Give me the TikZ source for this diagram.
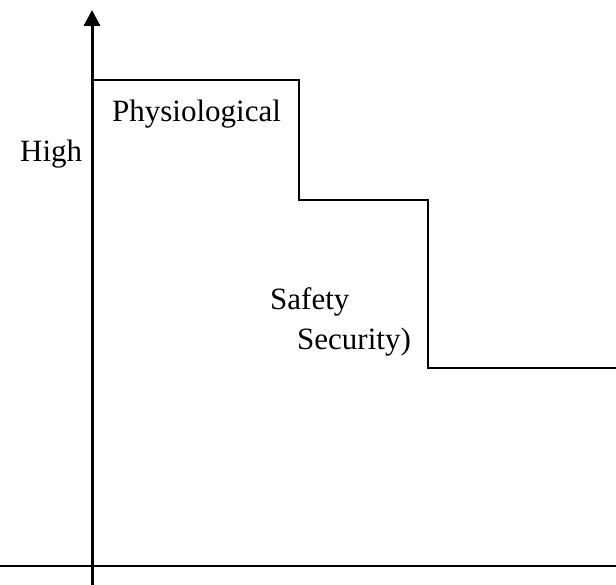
\documentclass[tikz,border=0pt]{standalone}
\usepackage{fontspec}
\setmainfont{Liberation Serif}
\usetikzlibrary{arrows.meta}
\begin{document}
\begin{tikzpicture}[x=1pt,y=-1pt,
  lbl/.style={anchor=base west,inner sep=0pt,font=\fontsize{31}{37}\selectfont},
  axis/.style={line width=3pt},
  stepline/.style={line width=2pt}]
\useasboundingbox (0,0) rectangle (616,585);
\coordinate (ybot) at (92,585);
\coordinate (ytop) at (92,10);
\coordinate (xl) at (0,566);
\coordinate (xr) at (616,566);
\draw[axis,-{Triangle[length=16pt,width=16pt]}] (ybot) -- (ytop);
\draw[stepline] (xl) -- (xr);
\coordinate (s0) at (92,80);
\coordinate (s1) at (299,80);
\coordinate (s2) at (299,200);
\coordinate (s3) at (428,200);
\coordinate (s4) at (428,368);
\coordinate (s5) at (616,368);
\draw[stepline] (s0) -- (s1) -- (s2) -- (s3) -- (s4) -- (s5);
\node[lbl] (phys) at (112,122) {Physiological};
\node[lbl] (high) at (20,162) {High};
\node[lbl] (safe) at (270,310) {Safety};
\node[lbl] (sec) at (297,350) {Security)};
\end{tikzpicture}
\end{document}
